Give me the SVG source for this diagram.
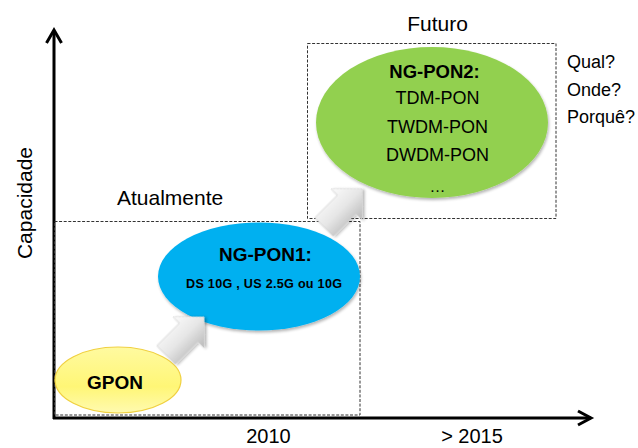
<svg xmlns="http://www.w3.org/2000/svg" width="638" height="448" viewBox="0 0 638 448">
  <style>
    text { font-family: "Liberation Sans", Arial, sans-serif; fill: #000; }
    .lbl { font-size: 21px; }
    .q { font-size: 18px; }
    .b { font-weight: bold; }
    .box { fill: none; stroke: #333; stroke-width: 1; stroke-dasharray: 3 1.6; }
    .axis { fill: none; stroke: #000; stroke-width: 3; }
    .arw { fill: url(#arrowGrad); stroke: #d0d0d0; stroke-width: 0.6; filter: url(#shadow); }
  </style>
  <defs>
    <linearGradient id="arrowGrad" x1="0" y1="-22" x2="0" y2="22" gradientUnits="userSpaceOnUse">
      <stop offset="0" stop-color="#fbfbfb"/>
      <stop offset="0.5" stop-color="#e6e6e6"/>
      <stop offset="1" stop-color="#b8b8b8"/>
    </linearGradient>
    <linearGradient id="yellowGrad" x1="0" y1="0" x2="0" y2="1">
      <stop offset="0" stop-color="#fffaa0"/>
      <stop offset="0.6" stop-color="#fff676"/>
      <stop offset="1" stop-color="#fffab0"/>
    </linearGradient>
    <filter id="shadow" x="-20%" y="-20%" width="150%" height="150%">
      <feGaussianBlur in="SourceAlpha" stdDeviation="1.5"/>
      <feOffset dx="1" dy="2" result="o"/>
      <feComponentTransfer><feFuncA type="linear" slope="0.3"/></feComponentTransfer>
      <feMerge><feMergeNode/><feMergeNode in="SourceGraphic"/></feMerge>
    </filter>
    <path id="blockArrow" d="M0,-13 L32,-13 L32,-22 L54,0 L32,22 L32,13 L0,13 Z"/>
  </defs>

  <!-- axes -->
  <g id="axes">
    <line class="axis" x1="54" y1="419" x2="54" y2="31"/>
    <polyline class="axis" points="46.5,43 54,30 61.5,43"/>
    <line class="axis" x1="53" y1="418" x2="591" y2="418"/>
    <polyline class="axis" points="578,411 591,418 578,425"/>
    <text class="lbl" transform="translate(32,203) rotate(-90)" text-anchor="middle">Capacidade</text>
    <text x="268.5" y="443" font-size="20" text-anchor="middle">2010</text>
    <text x="472" y="443" font-size="20" text-anchor="middle">&gt; 2015</text>
  </g>

  <!-- period boxes -->
  <g id="atualmente">
    <rect class="box" x="54.5" y="221.5" width="305.5" height="193.5"/>
    <text class="lbl" x="117" y="205">Atualmente</text>
  </g>
  <g id="futuro">
    <rect class="box" x="307.5" y="43.5" width="248.5" height="175"/>
    <text class="lbl" x="437.5" y="31" text-anchor="middle">Futuro</text>
  </g>

  <g id="questions">
    <text class="q" x="567" y="68">Qual?</text>
    <text class="q" x="567" y="96">Onde?</text>
    <text class="q" x="567" y="123">Porquê?</text>
  </g>

  <!-- nodes -->
  <g id="gpon">
    <ellipse cx="118" cy="380" rx="63" ry="33" fill="url(#yellowGrad)" stroke="#f0d040" stroke-width="1.2"/>
    <text class="b" x="115" y="389" font-size="19" text-anchor="middle">GPON</text>
  </g>

  <g id="ngpon1">
    <ellipse cx="259" cy="276.5" rx="101" ry="54" fill="#00b0f0" filter="url(#shadow)"/>
    <text class="b" x="265.5" y="261" font-size="19" text-anchor="middle">NG-PON1:</text>
    <text class="b" x="264" y="288" font-size="12.6" text-anchor="middle" textLength="156" lengthAdjust="spacing">DS 10G , US 2.5G ou  10G</text>
  </g>

  <g id="ngpon2">
    <ellipse cx="432" cy="122.5" rx="116" ry="75.5" fill="#92d050" filter="url(#shadow)"/>
    <text class="b" x="434.5" y="78" font-size="18.5" text-anchor="middle">NG-PON2:</text>
    <text x="437.5" y="104" font-size="18" text-anchor="middle">TDM-PON</text>
    <text x="437.5" y="133" font-size="18" text-anchor="middle">TWDM-PON</text>
    <text x="437.5" y="161" font-size="18" text-anchor="middle">DWDM-PON</text>
    <text x="437.5" y="192" font-size="16" text-anchor="middle">…</text>
  </g>

  <!-- connectors -->
  <g id="connectors">
    <use href="#blockArrow" class="arw" transform="translate(166,355) rotate(-45)"/>
    <use href="#blockArrow" class="arw" transform="translate(324,227) rotate(-45)"/>
  </g>
</svg>
